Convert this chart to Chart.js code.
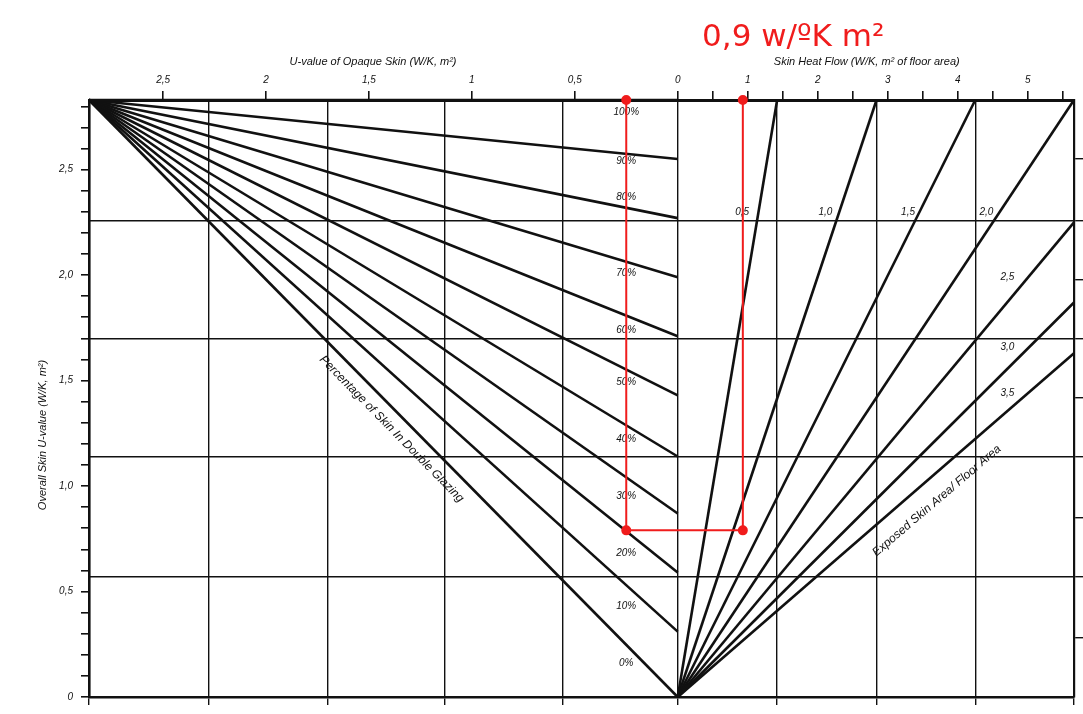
<!DOCTYPE html>
<html>
<head>
<meta charset="utf-8">
<script src="https://cdn.jsdelivr.net/npm/chart.js@4.4.1/dist/chart.umd.min.js"></script>
<style>
  html, body { margin: 0; padding: 0; background: #fff; }
  #wrap { width: 1083px; height: 714px; }
</style>
</head>
<body>
<div id="wrap"><canvas id="nomogram"></canvas></div>
<script>
// left half reads U-value of opaque skin, right half reads skin heat flow.
// one U unit on the left is drawn ~2.94 times wider than one heat flow unit on the right
const OPAQUE_TO_FLOW = 2.94

// fan of double glazing percentages (left half)
const apexOpaque = 2.86
const apexOverall = 2.83
const glazingLabels = ['100%', '90%', '80%', '70%', '60%', '50%', '40%', '30%', '20%', '10%', '0%']
const glazingEndOverall = [2.83, 2.55, 2.27, 1.99, 1.71, 1.43, 1.14, 0.87, 0.59, 0.31, 0]
const glazingLabelOverall = [2.77, 2.54, 2.37, 2.01, 1.74, 1.49, 1.22, 0.95, 0.68, 0.43, 0.16]
const glazingLabelOpaque = 0.25

// fan of exposed skin area / floor area ratios (right half)
const ratioLabels = ['0,5', '1,0', '1,5', '2,0', '2,5', '3,0', '3,5']
const ratioEndFlow = [1.42, 2.84, 4.25, 5.66, 5.66, 5.66, 5.66]
const ratioEndOverall = [2.83, 2.83, 2.83, 2.83, 2.25, 1.87, 1.63]
const ratioLabelFlow = [0.92, 2.11, 3.29, 4.41, 4.71, 4.71, 4.71]
const ratioLabelOverall = [2.30, 2.30, 2.30, 2.30, 1.99, 1.66, 1.44]

// axes
const opaqueTicks = [2.5, 2, 1.5, 1, 0.5, 0]
const opaqueTickLabels = ['2,5', '2', '1,5', '1', '0,5', '0']
const flowTicks = [0.5, 1, 1.5, 2, 2.5, 3, 3.5, 4, 4.5, 5, 5.5]
const flowTickLabels = ['', '1', '', '2', '', '3', '', '4', '', '5', '']
const overallTicks = [0, 0.1, 0.2, 0.3, 0.4, 0.5, 0.6, 0.7, 0.8, 0.9, 1.0, 1.1, 1.2, 1.3, 1.4,
  1.5, 1.6, 1.7, 1.8, 1.9, 2.0, 2.1, 2.2, 2.3, 2.4, 2.5, 2.6, 2.7, 2.8]
const overallTickLabels = ['0', '', '', '', '', '0,5', '', '', '', '', '1,0', '', '', '', '',
  '1,5', '', '', '', '', '2,0', '', '', '', '', '2,5', '', '', '']

// grid
const gridOpaque = [2.86, 2.28, 1.70, 1.13, 0.56, 0]
const gridFlow = [1.42, 2.84, 4.25, 5.66]
const gridOverall = [0.57, 1.14, 1.70, 2.26]
const rightTicksOverall = [0.28, 0.85, 1.42, 1.98, 2.55]

// red worked example
const markerOpaque = 0.25
const markerOverall = 0.79
const markerFlow = 0.93
const markerTitle = '0,9 w/ºK m²'

const toX = opaque => -opaque * OPAQUE_TO_FLOW
const INK = '#111'
const RED = 'rgb(240, 28, 28)'
const HAND = 'italic 10px "Liberation Sans", sans-serif'

const datasets = []

datasets.push({
  data: [
    { x: toX(markerOpaque), y: apexOverall },
    { x: toX(markerOpaque), y: markerOverall },
    { x: markerFlow, y: markerOverall },
    { x: markerFlow, y: apexOverall }
  ],
  borderColor: RED,
  backgroundColor: RED,
  borderWidth: 2,
  pointRadius: 4,
  showLine: true,
  clip: false
})

glazingEndOverall.forEach(v => {
  datasets.push({
    data: [{ x: toX(apexOpaque), y: apexOverall }, { x: 0, y: v }],
    borderColor: INK,
    borderWidth: 2.6,
    pointRadius: 0,
    showLine: true,
    clip: false
  })
})

ratioEndFlow.forEach((fx, i) => {
  datasets.push({
    data: [{ x: 0, y: 0 }, { x: fx, y: ratioEndOverall[i] }],
    borderColor: INK,
    borderWidth: 2.6,
    pointRadius: 0,
    showLine: true,
    clip: false
  })
})

const topTickValues = opaqueTicks.map(toX).concat(flowTicks)
const topTickLabels = opaqueTickLabels.concat(flowTickLabels)
const bottomTickValues = gridOpaque.map(toX).concat(gridFlow)
const rightTickValues = gridOverall.concat(rightTicksOverall).sort((a, b) => a - b)

const setTicks = values => scale => { scale.ticks = values.map(v => ({ value: v })) }

const labelsPlugin = {
  id: 'nomogramLabels',
  beforeDatasetsDraw(chart) {
    const { ctx, scales } = chart
    const px = v => scales.x.getPixelForValue(v)
    const py = v => scales.y.getPixelForValue(v)
    ctx.save()
    ctx.fillStyle = INK
    ctx.textAlign = 'center'
    ctx.textBaseline = 'middle'
    ctx.font = HAND

    glazingLabels.forEach((t, i) => {
      ctx.fillText(t, px(toX(glazingLabelOpaque)), py(glazingLabelOverall[i]))
    })
    ratioLabels.forEach((t, i) => {
      ctx.fillText(t, px(ratioLabelFlow[i]), py(ratioLabelOverall[i]))
    })

    ctx.font = 'italic 11px "Liberation Sans", sans-serif'
    ctx.fillText('U-value of Opaque Skin (W/K, m²)', px(toX(1.48)), 62)
    ctx.fillText('Skin Heat Flow (W/K, m² of floor area)', px(2.7), 62)

    ctx.save()
    ctx.translate(43, 435)
    ctx.rotate(-Math.PI / 2)
    ctx.fillText('Overall Skin U-value (W/K, m²)', 0, 0)
    ctx.restore()

    ctx.font = 'italic 12px "Liberation Sans", sans-serif'
    ctx.save()
    ctx.translate(px(toX(1.39)), py(1.27))
    ctx.rotate(45.5 * Math.PI / 180)
    ctx.fillText('Percentage of Skin In Double Glazing', 0, 0)
    ctx.restore()

    ctx.save()
    ctx.translate(px(3.7), py(0.93))
    ctx.rotate(-40.5 * Math.PI / 180)
    ctx.fillText('Exposed Skin Area/ Floor Area', 0, 0)
    ctx.restore()

    ctx.fillStyle = RED
    ctx.font = '31px "DejaVu Sans", sans-serif'
    ctx.fillText(markerTitle, px(1.65), 38)
    ctx.restore()
  }
}

new Chart(document.getElementById('nomogram'), {
  type: 'scatter',
  data: { datasets },
  options: {
    responsive: true,
    maintainAspectRatio: false,
    animation: false,
    devicePixelRatio: 1,
    layout: { padding: 0 },
    plugins: {
      legend: { display: false },
      tooltip: { enabled: false }
    },
    scales: {
      x: {
        type: 'linear',
        position: 'top',
        min: toX(apexOpaque),
        max: 5.66,
        afterBuildTicks: setTicks(topTickValues),
        afterFit: s => { s.height = 100 },
        ticks: {
          autoSkip: false,
          maxRotation: 0,
          padding: 5,
          color: INK,
          font: { family: '"Liberation Sans", sans-serif', size: 10, style: 'italic' },
          callback: (v, i) => topTickLabels[i]
        },
        grid: { drawOnChartArea: false, tickLength: 9, color: INK, lineWidth: 1.6 },
        border: { color: INK, width: 3 }
      },
      xb: {
        type: 'linear',
        position: 'bottom',
        min: toX(apexOpaque),
        max: 5.66,
        afterBuildTicks: setTicks(bottomTickValues),
        afterFit: s => { s.height = 17 },
        ticks: { display: false },
        grid: { drawOnChartArea: true, tickLength: 8, color: INK, lineWidth: 1.4 },
        border: { color: INK, width: 2.6 }
      },
      y: {
        type: 'linear',
        position: 'left',
        min: 0,
        max: apexOverall,
        afterBuildTicks: setTicks(overallTicks),
        afterFit: s => { s.width = 89 },
        ticks: {
          autoSkip: false,
          padding: 8,
          color: INK,
          font: { family: '"Liberation Sans", sans-serif', size: 10, style: 'italic' },
          callback: (v, i) => overallTickLabels[i]
        },
        grid: { drawOnChartArea: false, tickLength: 8, color: INK, lineWidth: 1.6 },
        border: { color: INK, width: 2.6 }
      },
      yr: {
        type: 'linear',
        position: 'right',
        min: 0,
        max: apexOverall,
        afterBuildTicks: setTicks(rightTickValues),
        afterFit: s => { s.width = 9 },
        ticks: { display: false },
        grid: {
          drawOnChartArea: true,
          tickLength: 9,
          lineWidth: 1.4,
          color: c => gridOverall.includes(c.tick && c.tick.value) ? INK : 'rgba(0,0,0,0)',
          tickColor: INK
        },
        border: { color: INK, width: 2.2 }
      }
    }
  },
  plugins: [labelsPlugin]
})
</script>
</body>
</html>
